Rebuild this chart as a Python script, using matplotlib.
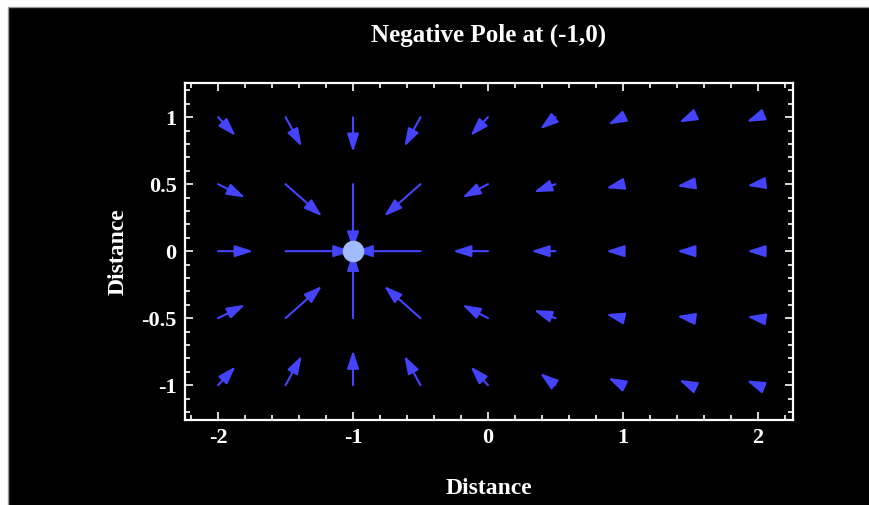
import matplotlib
matplotlib.use("Agg")
import matplotlib.pyplot as plt
from matplotlib.lines import Line2D
from matplotlib.ticker import MultipleLocator

plt.rcParams["axes.unicode_minus"] = False

# grid of sample points
xs = [-2, -1.5, -1, -0.5, 0, 0.5, 1, 1.5, 2]
ys = [1, 0.5, 0, -0.5, -1]

# arrow components (rows follow ys, columns follow xs)
U = [
    [0.13, 0.12, 0.0, -0.12, -0.13, -0.115, -0.11, -0.085, -0.084],
    [0.20, 0.27, 0.0, -0.27, -0.19, -0.16, -0.125, -0.10, -0.08],
    [0.26, 0.49, None, -0.49, -0.26, -0.18, -0.125, -0.10, -0.08],
    [0.20, 0.27, 0.0, -0.27, -0.19, -0.16, -0.125, -0.10, -0.08],
    [0.13, 0.12, 0.0, -0.12, -0.13, -0.115, -0.11, -0.085, -0.084],
]
V = [
    [-0.14, -0.22, -0.26, -0.22, -0.14, -0.09, -0.055, -0.04, -0.035],
    [-0.10, -0.24, -0.49, -0.24, -0.10, -0.06, -0.03, -0.015, -0.012],
    [0.0, 0.0, None, 0.0, 0.0, 0.0, 0.0, 0.0, 0.0],
    [0.10, 0.24, 0.49, 0.24, 0.10, 0.06, 0.03, 0.015, 0.012],
    [0.14, 0.22, 0.26, 0.22, 0.14, 0.09, 0.055, 0.04, 0.035],
]

pole = (-1, 0)
xticks = [-2, -1, 0, 1, 2]
yticks = [1, 0.5, 0, -0.5, -1]
ytick_labels = ["1", "0.5", "0", "-0.5", "-1"]

arrow_color = "#4444ff"
pole_color = "#a0bcff"
serif = ["Liberation Serif", "DejaVu Serif"]

fig = plt.figure(figsize=(8.7, 5.05), dpi=100)
fig.patch.set_facecolor("black")
# thin white margin at top/left like the source image
x0, y0 = 8 / 870, 1 - 7 / 505
fig.patches.append(plt.Rectangle((0, y0), 1, 1 - y0, transform=fig.transFigure,
                                 facecolor="white", edgecolor="none", zorder=-5))
fig.patches.append(plt.Rectangle((0, 0), x0, 1, transform=fig.transFigure,
                                 facecolor="white", edgecolor="none", zorder=-5))
fig.lines.append(Line2D([x0, x0, 1], [0, y0, y0], transform=fig.transFigure,
                        color="#999999", lw=1.0))

ax = fig.add_axes([185 / 870, 1 - 420 / 505, 608 / 870, 337 / 505])
ax.set_facecolor("black")
ax.set_xlim(-2.245, 2.26)
ax.set_ylim(-1.26, 1.255)

for i, y in enumerate(ys):
    for j, x in enumerate(xs):
        u, v = U[i][j], V[i][j]
        if u is None:
            continue
        ax.annotate("", xy=(x + u, y + v), xytext=(x, y),
                    arrowprops=dict(arrowstyle="-|>,head_length=0.68,head_width=0.22",
                                    color=arrow_color, lw=1.5, shrinkA=0, shrinkB=0,
                                    mutation_scale=16))

ax.plot([pole[0]], [pole[1]], marker="o", ms=14.5, color=pole_color, mec=pole_color, zorder=5)

for s in ax.spines.values():
    s.set_color("white")
    s.set_linewidth(1.6)

ax.set_xticks(xticks)
ax.set_yticks(yticks)
ax.set_yticklabels(ytick_labels)
ax.xaxis.set_minor_locator(MultipleLocator(0.2))
ax.yaxis.set_minor_locator(MultipleLocator(0.1))
ax.tick_params(which="both", direction="in", colors="white", top=True, right=True, width=1.2)
ax.tick_params(which="major", length=6, pad=6)
ax.tick_params(which="minor", length=3.5)
for lab in ax.get_xticklabels() + ax.get_yticklabels():
    lab.set_family(serif)
    lab.set_fontweight("bold")
    lab.set_fontsize(16)
    lab.set_color("white")

ax.set_xlabel("Distance", family=serif, fontweight="bold", fontsize=17, color="white", va="center")
ax.set_ylabel("Distance", family=serif, fontweight="bold", fontsize=17, color="white", va="center")
ax.xaxis.set_label_coords(0.5, -0.202)
ax.yaxis.set_label_coords(-0.110, 0.5)

fig.text(489 / 870, 1 - 35 / 505, "Negative Pole at (-1,0)", ha="center", va="center",
         family=serif, fontweight="bold", fontsize=18, color="white")

fig.savefig("out.png", dpi=100, facecolor=fig.get_facecolor())
